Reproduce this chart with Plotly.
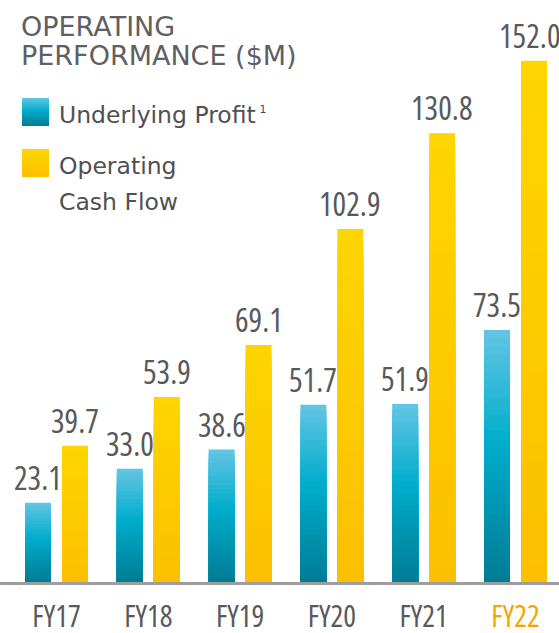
import plotly.graph_objects as go

# ---- data ----
years = ["FY17", "FY18", "FY19", "FY20", "FY21", "FY22"]
underlying_profit = [23.1, 33.0, 38.6, 51.7, 51.9, 73.5]
operating_cash_flow = [39.7, 53.9, 69.1, 102.9, 130.8, 152.0]
highlight_year = "FY22"

W, H = 559, 633
MB = 51
PH = H - MB  # plot height in px

BAR_W = 0.283
BLUE_OFF = -0.343
YEL_OFF = 0.060
N = 30

COND = "font-stretch:75%"


def lerp(c1, c2, t):
    return tuple(c1[i] + (c2[i] - c1[i]) * t for i in range(3))


def blue_at(f):
    bottom = (0, 124, 148)
    mid = (0, 174, 204)
    top = (100, 198, 228)
    if f < 0.55:
        c = lerp(bottom, mid, f / 0.55)
    else:
        c = lerp(mid, top, (f - 0.55) / 0.45)
    return "rgb(%d,%d,%d)" % c


def yellow_at(f):
    c = lerp((252, 192, 0), (255, 214, 0), f)
    return "rgb(%d,%d,%d)" % c


x_idx = list(range(len(years)))

fig = go.Figure()
for series, off, cfun in ((underlying_profit, BLUE_OFF, blue_at),
                          (operating_cash_flow, YEL_OFF, yellow_at)):
    for k in range(N):
        frac = (N - k) / N
        fig.add_trace(go.Bar(
            x=x_idx,
            y=[v * frac for v in series],
            width=BAR_W,
            offset=off,
            marker=dict(color=cfun((N - k - 0.5) / N), line=dict(width=0)),
            showlegend=False,
            hoverinfo="skip",
        ))

label_font = dict(family="Open Sans, sans-serif", size=32, color="#58595B")

annotations = []
for series, off in ((underlying_profit, BLUE_OFF), (operating_cash_flow, YEL_OFF)):
    for i, v in enumerate(series):
        last = (off == YEL_OFF and i == len(series) - 1)
        annotations.append(dict(x=i + off + BAR_W / 2, y=v, xref="x", yref="y",
                                text=f"<span style='{COND}'>{v:.1f}</span>",
                                showarrow=False, yanchor="bottom", yshift=2,
                                xshift=-4 if last else 0,
                                font=label_font))


def px_x(p):
    return p / W


def px_y(p):
    return (PH - p) / PH


title_font = dict(family="DejaVu Sans, sans-serif", size=27, color="#5f6062")
for txt, cy in (("OPERATING", 27), ("PERFORMANCE ($M)", 56)):
    annotations.append(dict(x=px_x(19), y=px_y(cy), xref="paper", yref="paper",
                            xanchor="left", yanchor="middle", text=txt,
                            showarrow=False, font=title_font))

leg_font = dict(family="DejaVu Sans, sans-serif", size=23.5, color="#505052")
for txt, cy in (("Underlying Profit<span style='font-size:12px'> </span>"
                 "<sup><span style='font-size:11px'>1</span></sup>", 115),
                ("Operating", 166), ("Cash Flow", 202)):
    annotations.append(dict(x=px_x(57), y=px_y(cy), xref="paper", yref="paper",
                            xanchor="left", yanchor="middle", text=txt,
                            showarrow=False, font=leg_font))

shapes = []
NS = 14
for y_top, cfun in ((98, blue_at), (149, yellow_at)):
    for s in range(NS):
        f = (NS - s - 0.5) / NS
        y0 = y_top + s * 28 / NS
        shapes.append(dict(type="rect", xref="paper", yref="paper",
                           x0=px_x(22), x1=px_x(49),
                           y0=px_y(min(y0 + 28 / NS + 0.5, y_top + 28)), y1=px_y(y0),
                           fillcolor=cfun(f), line=dict(width=0)))

tick_text = []
for y in years:
    if y == highlight_year:
        tick_text.append(f"<span style='{COND};color:#F5A500'>{y}</span>")
    else:
        tick_text.append(f"<span style='{COND}'>{y}</span>")

fig.update_layout(
    width=W, height=H,
    margin=dict(l=0, r=0, t=0, b=MB),
    barmode="overlay",
    plot_bgcolor="white", paper_bgcolor="white",
    showlegend=False,
    annotations=annotations,
    shapes=shapes,
    xaxis=dict(range=[-0.6155, 5.474], tickmode="array", tickvals=x_idx,
               ticktext=tick_text, showgrid=False, zeroline=False,
               showline=True, linecolor="#9d9d9d", linewidth=2.5,
               ticks="outside", ticklen=6, tickcolor="rgba(0,0,0,0)",
               tickfont=dict(family="Open Sans, sans-serif", size=30, color="#58595B"),
               automargin=False, fixedrange=True),
    yaxis=dict(range=[0, PH / 3.43], visible=False, fixedrange=True,
               automargin=False),
)

fig.write_html("out.html", config={"displayModeBar": False},
               post_script="document.body.style.margin='0';")
